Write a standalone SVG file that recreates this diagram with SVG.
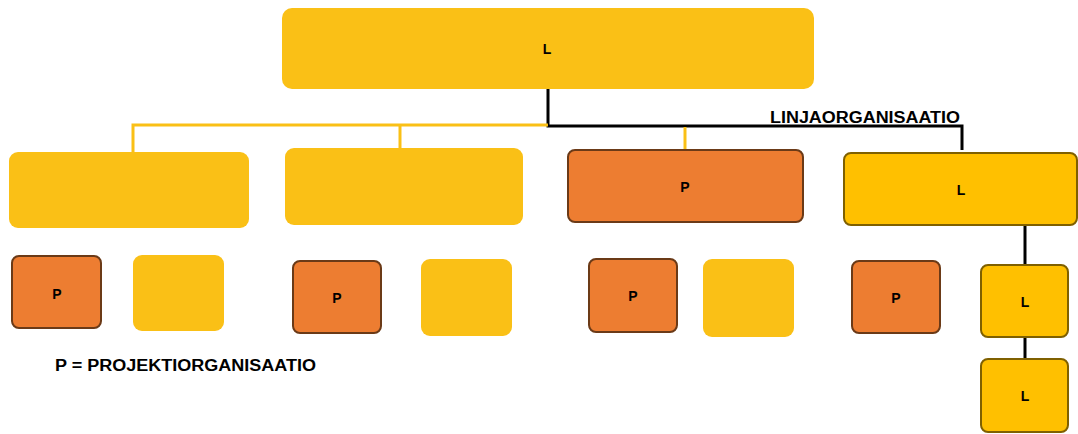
<svg xmlns="http://www.w3.org/2000/svg" width="1078" height="434" viewBox="0 0 1078 434">
<style>
.y{fill:#FAC016}
.p{fill:#ED7D31;stroke:#6B3A17;stroke-width:2}
.l{fill:#FFC000;stroke:#7F6000;stroke-width:2}
text{font-family:"Liberation Sans",Arial,sans-serif;font-weight:bold;fill:#000;text-anchor:middle;dominant-baseline:central}
.t{font-size:16px;text-anchor:start;dominant-baseline:alphabetic}
.s{font-size:14px}
.k{stroke:#000;stroke-width:3;fill:none}
.g{stroke:#FAC016;stroke-width:3;fill:none}
</style>
<rect width="1078" height="434" fill="#fff"/>
<g id="connectors">
<polyline class="k" points="548,89 548,126 962,126 962,150"/>
<polyline class="k" points="1025,225 1025,265"/>
<polyline class="k" points="1025,337 1025,359"/>
<polyline class="g" points="548,125 133,125 133,152"/>
<line class="g" x1="400" y1="125" x2="400" y2="148"/>
<line class="g" x1="685" y1="127" x2="685" y2="150"/>
</g>
<g id="top"><rect class="y" x="282" y="8" width="532" height="81" rx="10"/><text class="s" x="547" y="49">L</text></g>
<g id="a"><rect class="y" x="9" y="152" width="240" height="76" rx="9"/></g>
<g id="b"><rect class="y" x="285" y="148" width="238" height="77" rx="9"/></g>
<g id="c"><rect class="p" x="568" y="150" width="235" height="72" rx="7"/><text class="s" x="685" y="187">P</text></g>
<g id="d"><rect class="l" x="844" y="153" width="233" height="72" rx="7"/><text class="s" x="961" y="190">L</text></g>
<g id="p1"><rect class="p" x="12" y="256" width="89" height="72" rx="7"/><text class="s" x="57" y="294">P</text></g>
<g id="y1"><rect class="y" x="133" y="255" width="91" height="76" rx="9"/></g>
<g id="p2"><rect class="p" x="293" y="261" width="88" height="72" rx="7"/><text class="s" x="337" y="298">P</text></g>
<g id="y2"><rect class="y" x="421" y="259" width="91" height="77" rx="9"/></g>
<g id="p3"><rect class="p" x="589" y="259" width="88" height="73" rx="7"/><text class="s" x="633" y="296">P</text></g>
<g id="y3"><rect class="y" x="703" y="259" width="91" height="78" rx="9"/></g>
<g id="p4"><rect class="p" x="852" y="261" width="88" height="72" rx="7"/><text class="s" x="896" y="298">P</text></g>
<g id="l1"><rect class="l" x="981" y="265" width="87" height="72" rx="7"/><text class="s" x="1025" y="302">L</text></g>
<g id="l2"><rect class="l" x="981" y="359" width="87" height="73" rx="7"/><text class="s" x="1025" y="396">L</text></g>
<g id="labels">
<text class="t" x="770" y="123" textLength="190" lengthAdjust="spacingAndGlyphs">LINJAORGANISAATIO</text>
<text class="t" x="55" y="371" textLength="261" lengthAdjust="spacingAndGlyphs">P = PROJEKTIORGANISAATIO</text>
</g>
</svg>
